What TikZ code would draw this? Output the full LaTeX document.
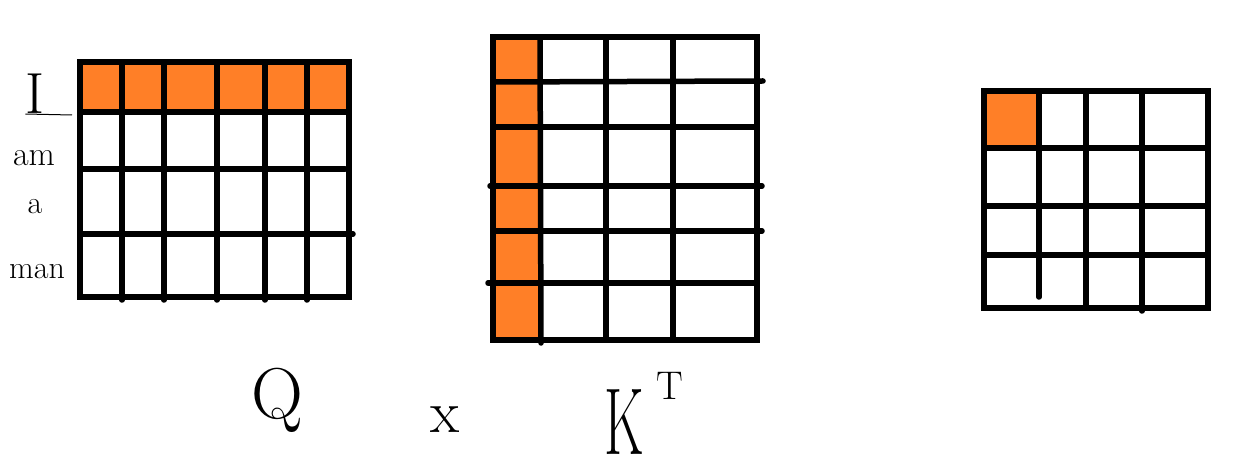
\documentclass[tikz,border=0pt]{standalone}
\usepackage{fontspec}
\definecolor{paintorange}{HTML}{FF7F27}
\tikzset{
  gridline/.style={line width=5.5pt, black, line cap=round},
  framebox/.style={line width=5.5pt, black},
  cellfill/.style={fill=paintorange},
  hand/.style={inner sep=0pt, black, anchor=center}
}
\begin{document}
\begin{tikzpicture}[x=1pt,y=-1pt]
\path[use as bounding box, fill=white] (0,0) rectangle (1247,470);
% ---------- Q ----------
\fill[cellfill] (80,62) rectangle (349,112);
\foreach \x in {122,164,217,265,307} \draw[gridline] (\x,62) -- (\x,300);
\draw[gridline] (80,112) -- (349,112);
\draw[gridline] (80,169) -- (345,169);
\draw[gridline] (80,234) -- (353,234);
\draw[framebox] (80,62) rectangle (349,297);
% ---------- K^T ----------
\fill[cellfill] (493,37) rectangle (540,340);
\draw[gridline] (540,37) -- (541,343);
\foreach \x in {606,673} \draw[gridline] (\x,37) -- (\x,340);
\draw[gridline] (493,82) -- (763,81);
\draw[gridline] (493,127) -- (757,127);
\draw[gridline] (490,186) -- (762,186);
\draw[gridline] (493,231) -- (762,231);
\draw[gridline] (488,283) -- (757,283);
\draw[framebox] (493,37) rectangle (757,340);
% ---------- result ----------
\fill[cellfill] (984,91) rectangle (1039,148);
\draw[gridline] (1039,91) -- (1039,297);
\draw[gridline] (1086,91) -- (1086,308);
\draw[gridline] (1142,91) -- (1142,311);
\foreach \y in {148,206,255} \draw[gridline] (984,\y) -- (1208,\y);
\draw[framebox] (984,91) rectangle (1208,308);
% ---------- labels ----------
\node[hand, font=\fontsize{58}{60}\selectfont] (wI) at (35,94) {I};
\draw[line width=1pt] (wI.south west) -- (72,115);
\node[hand, font=\fontsize{34}{36}\selectfont] (wam) at (34,158) {am};
\node[hand, font=\fontsize{32}{34}\selectfont] (wa) at (35,207) {a};
\node[hand, font=\fontsize{32}{34}\selectfont] (wman) at (37,272) {man};
\node[hand, font=\fontsize{72}{74}\selectfont] (lq) at (277,400) {Q};
\node[hand, font=\fontsize{60}{62}\selectfont] (lx) at (445,420) {x};
\node[hand, font=\fontsize{95}{97}\selectfont] (lk) at (624,422) {\scalebox{0.58}[1]{K}};
\node[hand, font=\fontsize{40}{42}\selectfont] (lt) at (670,386) {T};
\end{tikzpicture}
\end{document}
